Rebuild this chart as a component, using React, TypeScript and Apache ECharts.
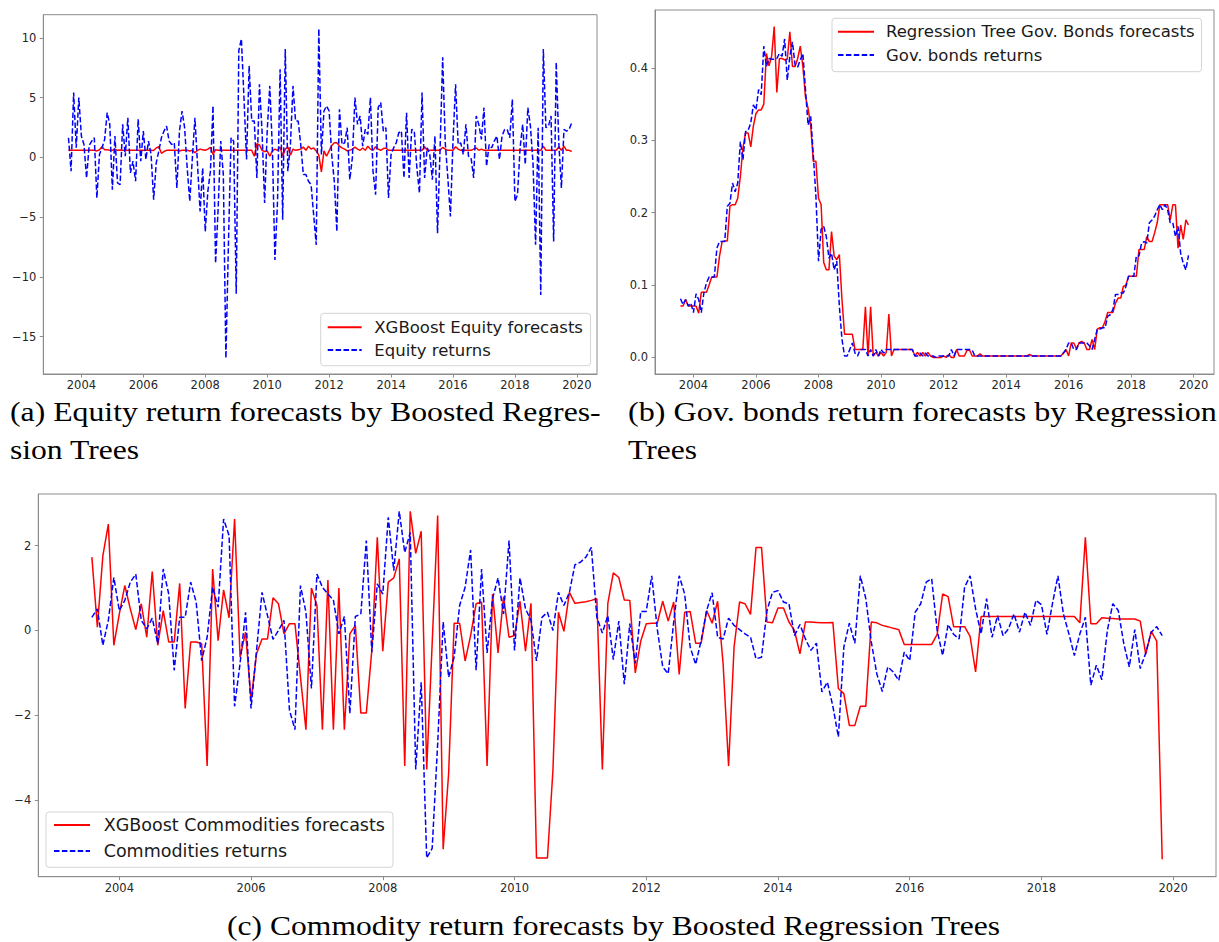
import React, { useEffect, useRef } from "react";
import * as echarts from "echarts";

// ---------- data ----------
const monthCount = 196;
const firstYear = 2003;
const firstMonth = 8; // Aug 2003
const yearTicks = [2004, 2006, 2008, 2010, 2012, 2014, 2016, 2018, 2020];

const equityForecast = [
  0.6, 0.6, 0.6, 0.6, 0.6, 0.6, 0.6, 0.6, 0.6, 0.6,
  0.6, 0.55, 0.65, 0.9, 0.65, 0.65, 0.6, 0.6, 0.7, 0.6,
  0.62, 0.6, 0.58, 0.6, 0.6, 0.6, 0.6, 0.6, 0.6, 0.6,
  0.6, 0.6, 0.6, 0.58, 0.8, 0.9, 0.35, 0.5, 0.6, 0.6,
  0.6, 0.6, 0.6, 0.55, 0.6, 0.6, 0.6, 0.55, 0.6, 0.4,
  0.6, 0.7, 0.65, 0.6, 0.7, 0.85, 0.25, 0.65, 0.6, 0.6,
  0.6, 0.6, 0.6, 0.6, 0.6, 0.6, 0.6, 0.6, 0.6, 0.6,
  0.6, 0.6, 0.1, 1.15, 1.05, 0.6, 0.5, 0.55, 0.1, 0.55,
  0.7, 0.6, 0.87, 0.1, 0.7, 0.87, 0.2, 0.7, 0.6, 0.65,
  0.7, 0.87, 0.6, 0.95, 0.7, 0.8, 0.55, 0.2, -1.2, 0.55,
  0.1, 0.55, 1.0, 1.23, 1.23, 0.95, 0.8, 0.7, 0.55, 0.6,
  0.7, 0.87, 0.7, 0.6, 0.8, 0.6, 0.95, 0.7, 0.6, 0.9,
  0.7, 0.6, 0.75, 0.8, 0.6, 0.6, 0.6, 0.6, 0.6, 0.6,
  0.6, 0.6, 0.6, 0.6, 0.6, 0.6, 0.6, 0.6, 0.9, 0.6,
  0.6, 0.6, 0.6, 0.6, 0.6, 0.85, 0.7, 0.6, 0.6, 0.6,
  0.9, 0.7, 0.6, 0.6, 0.6, 0.6, 0.6, 0.7, 0.8, 0.6,
  0.7, 0.6, 0.6, 0.6, 0.6, 0.6, 0.6, 0.6, 0.6, 0.6,
  0.6, 0.6, 0.6, 0.6, 0.6, 0.6, 0.6, 0.6, 0.6, 0.6,
  0.6, 0.6, 0.6, 0.6, 0.95, 0.6, 0.6, 0.6, 0.6, 0.6,
  0.87, 0.6, 0.95, 0.6, 0.6, 0.5,
];

const equityReturns = [
  1.65, -1.15, 5.43, 0.81, 5.01, 1.79, 1.09, -1.71, 1.0, 1.37,
  1.65, -3.39, 0.25, 0.81, 1.5, 3.75, 2.77, -2.69, 1.79, -2.13,
  -2.27, 2.77, 0.11, 3.33, -1.29, -0.31, -1.99, 3.19, -0.31, 2.21,
  -0.17, 1.37, 0.25, -3.53, -0.45, 0.53, 1.65, 2.21, 2.63, 1.37,
  1.09, 1.23, -2.55, 2.21, 3.89, 2.49, -0.87, -3.67, -0.03, 3.33,
  -0.59, -4.51, -0.87, -6.19, -2.83, -1.15, 4.31, -8.85, -4.23, 1.37,
  -1.43, -16.8, -7.03, 1.65, 1.37, -11.4, 8.94, 9.92, 5.01, -0.17,
  7.68, 3.05, 3.05, -1.71, 6.13, 2.21, -3.81, 2.21, 5.99, 0.81,
  -8.57, -3.67, 7.39, -5.21, 9.08, -1.15, 1.09, 5.99, 3.05, 3.05,
  1.09, -1.43, -1.43, -1.99, -2.27, -4.79, -7.31, 10.76, 0.25, 3.89,
  4.31, 3.89, 0.25, -1.99, -6.19, 4.03, 1.09, 1.23, 2.49, -1.85,
  -0.03, 5.01, 2.77, 3.47, 0.95, 2.35, 1.93, 5.01, -1.15, -3.11,
  4.17, 4.59, 2.21, 2.49, -3.39, 0.25, 0.81, 1.23, 2.07, 2.21,
  -1.71, 3.75, -1.71, 2.35, 2.21, -0.87, -2.97, 5.43, -1.71, 0.81,
  0.25, -1.85, 1.79, -6.33, 0.81, 8.38, 1.23, -1.71, -4.93, 1.37,
  6.13, 1.09, 1.23, 0.25, 2.77, 0.11, -0.03, -1.71, 3.47, 2.77,
  1.51, 4.17, -0.73, 1.09, 0.81, 1.37, 1.79, -0.17, 1.79, 2.35,
  2.35, 1.65, 4.87, -3.67, -3.11, 0.81, 2.77, -0.59, 4.17, 2.63,
  -0.45, -7.31, 2.49, -11.5, 9.08, 2.49, 2.63, 3.47, -7.03, 7.96,
  1.23, -2.55, 2.35, 2.21, 2.35, 2.91,
];

const govForecast = [
  0.071, 0.071, 0.08, 0.071, 0.071, 0.071, 0.071, 0.061, 0.09, 0.09,
  0.09, 0.1, 0.111, 0.111, 0.111, 0.14, 0.16, 0.161, 0.161, 0.209,
  0.211, 0.211, 0.22, 0.25, 0.29, 0.31, 0.31, 0.291, 0.32, 0.337,
  0.342, 0.342, 0.35, 0.42, 0.403, 0.416, 0.457, 0.366, 0.413, 0.413,
  0.411, 0.412, 0.45, 0.402, 0.402, 0.413, 0.43, 0.402, 0.36, 0.344,
  0.32, 0.271, 0.271, 0.22, 0.211, 0.131, 0.121, 0.121, 0.174, 0.14,
  0.135, 0.142, 0.08, 0.032, 0.032, 0.032, 0.032, 0.011, 0.011, 0.011,
  0.011, 0.07, 0.002, 0.07, 0.002, 0.007, 0.002, 0.007, 0.002, 0.007,
  0.06, 0.002, 0.011, 0.011, 0.011, 0.011, 0.011, 0.011, 0.011, 0.011,
  0.002, 0.007, 0.002, 0.007, 0.002, 0.007, 0.002, 0.0, 0.0, 0.0,
  0.0, 0.002, 0.0, 0.004, 0.0, 0.0, 0.011, 0.002, 0.002, 0.002,
  0.01, 0.01, 0.002, 0.002, 0.002, 0.005, 0.002, 0.002, 0.002, 0.002,
  0.002, 0.002, 0.002, 0.002, 0.002, 0.002, 0.002, 0.002, 0.002, 0.002,
  0.002, 0.002, 0.002, 0.002, 0.004, 0.002, 0.002, 0.002, 0.002, 0.002,
  0.002, 0.002, 0.002, 0.002, 0.002, 0.002, 0.002, 0.006, 0.011, 0.002,
  0.02, 0.02, 0.012, 0.02, 0.022, 0.02, 0.011, 0.011, 0.025, 0.011,
  0.039, 0.041, 0.041, 0.05, 0.062, 0.062, 0.062, 0.075, 0.082, 0.082,
  0.098, 0.1, 0.112, 0.112, 0.112, 0.112, 0.149, 0.149, 0.149, 0.167,
  0.16, 0.16, 0.172, 0.186, 0.211, 0.211, 0.211, 0.211, 0.19, 0.211,
  0.211, 0.151, 0.183, 0.163, 0.19, 0.183,
];

const govReturns = [
  0.081, 0.073, 0.08, 0.071, 0.075, 0.062, 0.088, 0.08, 0.062, 0.089,
  0.103, 0.111, 0.111, 0.111, 0.151, 0.16, 0.16, 0.16, 0.209, 0.213,
  0.241, 0.229, 0.241, 0.298, 0.273, 0.312, 0.314, 0.324, 0.349, 0.342,
  0.37, 0.363, 0.43, 0.402, 0.413, 0.412, 0.412, 0.413, 0.42, 0.416,
  0.44, 0.383, 0.416, 0.436, 0.404, 0.401, 0.411, 0.42, 0.37, 0.321,
  0.333, 0.28, 0.223, 0.133, 0.177, 0.181, 0.167, 0.137, 0.144, 0.121,
  0.133, 0.071, 0.025, 0.002, 0.002, 0.011, 0.02, 0.006, 0.002, 0.011,
  0.011, 0.011, 0.002, 0.011, 0.002, 0.011, 0.002, 0.011, 0.006, 0.011,
  0.011, 0.011, 0.011, 0.011, 0.011, 0.011, 0.011, 0.011, 0.011, 0.011,
  0.002, 0.002, 0.006, 0.002, 0.006, 0.002, 0.002, 0.002, 0.0, 0.002,
  0.002, 0.002, 0.002, 0.002, 0.011, 0.002, 0.011, 0.011, 0.011, 0.011,
  0.011, 0.011, 0.01, 0.002, 0.002, 0.002, 0.002, 0.002, 0.002, 0.002,
  0.002, 0.002, 0.002, 0.002, 0.002, 0.002, 0.002, 0.002, 0.002, 0.002,
  0.002, 0.002, 0.002, 0.002, 0.002, 0.002, 0.002, 0.002, 0.002, 0.002,
  0.002, 0.002, 0.002, 0.002, 0.002, 0.002, 0.002, 0.006, 0.011, 0.02,
  0.02, 0.011, 0.011, 0.02, 0.02, 0.02, 0.02, 0.016, 0.011, 0.025,
  0.039, 0.039, 0.041, 0.041, 0.057, 0.059, 0.066, 0.087, 0.087, 0.089,
  0.089, 0.098, 0.112, 0.112, 0.112, 0.14, 0.14, 0.158, 0.16, 0.158,
  0.186, 0.19, 0.195, 0.204, 0.211, 0.204, 0.211, 0.204, 0.186, 0.186,
  0.167, 0.181, 0.144, 0.13, 0.121, 0.141,
];

const commodityForecast = [
  1.73, 0.08, 1.76, 2.51, -0.35, 0.39, 1.06, 0.51, 0.02, 0.63,
  -0.16, 1.39, -0.35, 0.47, -0.27, -0.27, 1.11, -1.84, -0.27, -0.27,
  -0.31, -3.2, 1.45, -0.24, 0.96, 0.3, 2.63, -0.63, -0.04, -1.65,
  -0.55, -0.2, -0.2, 0.77, 0.63, -0.08, 0.16, 0.16, -1.1, -2.34,
  1.0, 0.59, -2.34, 1.19, -2.34, 1.0, -2.34, -0.08, 0.12, -1.95,
  -1.95, -0.47, 2.2, -0.49, 1.14, 1.24, 1.69, -3.2, 2.81, 1.82,
  2.34, -3.28, -0.3, 2.71, -5.16, -3.37, 0.17, 0.17, -0.72, -0.12,
  0.63, 0.67, -3.2, 0.86, -0.53, 0.8, -0.16, -0.12, 0.69, -0.49,
  0.64, -5.37, -5.37, -5.37, -3.3, 0.43, -0.02, 0.9, 0.64, 0.66,
  0.68, 0.71, 0.75, -3.28, 0.64, 1.36, 1.25, 0.72, 0.71, -1.0,
  -0.25, 0.16, 0.17, 0.17, 0.69, 0.22, 0.67, -1.04, 0.43, 0.45,
  -0.3, -0.3, 0.47, 0.17, 0.69, -0.78, -3.2, -0.39, 0.67, 0.63,
  0.38, 1.96, 1.96, 0.2, 0.18, 0.53, 0.53, 0.2, 0.0, -0.55,
  0.2, 0.2, 0.19, 0.18, 0.18, 0.19, -1.37, -1.49, -2.24, -2.24,
  -1.79, -1.79, 0.2, 0.18, 0.12, 0.09, 0.05, 0.02, -0.33, -0.33,
  -0.33, -0.33, -0.33, -0.33, -0.09, 0.86, 0.8, 0.09, 0.09, 0.09,
  -0.14, -0.98, 0.33, 0.33, 0.33, 0.33, 0.33, 0.33, 0.33, 0.33,
  0.33, 0.33, 0.33, 0.33, 0.33, 0.33, 0.33, 0.33, 0.33, 0.33,
  0.18, 2.2, 0.16, 0.16, 0.3, 0.29, 0.28, 0.27, 0.27, 0.27,
  0.27, 0.22, -0.56, -0.02, -0.25, -5.4,
];

const commodityReturns = [
  0.31, 0.51, -0.35, 0.24, 1.25, 0.47, 0.71, 1.14, 1.33, 0.24,
  0.04, 0.29, -0.31, 1.45, 0.86, -0.94, 0.31, 0.31, 1.14, 0.67,
  -0.71, -0.16, 1.02, 0.55, 2.63, 2.24, -1.79, -0.78, 0.43, -1.84,
  -0.47, 0.9, 0.35, -0.21, 0.0, 0.24, -1.88, -2.34, 1.06, 0.43,
  -1.37, 1.33, 1.02, 0.86, 0.72, -0.08, 0.33, -1.96, 0.33, 0.39,
  2.12, -0.51, 1.1, 0.86, 2.67, 1.41, 2.81, 1.84, 2.31, -3.28,
  -1.22, -5.37, -5.14, -2.67, 0.2, -1.1, -0.63, 0.59, 1.02, 1.9,
  -0.94, 1.45, -0.53, 0.75, 1.24, 0.39, 2.12, -0.47, 1.24, 0.51,
  0.24, -0.72, 0.31, 0.43, 0.0, 0.9, 0.59, 0.9, 1.55, 1.61,
  1.73, 1.96, 0.31, -0.06, 0.35, -0.69, 0.22, -1.27, 0.16, -0.78,
  0.45, 0.45, 1.29, 0.04, -0.86, -1.02, 0.2, 1.29, 0.86, -0.39,
  -0.8, -0.24, 0.47, 0.89, -0.16, -0.2, 0.29, 0.12, 0.02, -0.08,
  -0.16, -0.67, -0.63, 0.47, 0.9, 0.94, 0.67, 0.63, -0.12, 0.14,
  -0.2, -0.47, -0.3, -1.45, -1.22, -1.79, -2.51, -0.39, 0.17, -0.3,
  1.29, 0.75, -0.27, -1.02, -1.44, -0.86, -0.98, -1.18, -0.51, -0.71,
  0.43, 0.63, 1.14, 1.22, 0.0, -0.59, 0.14, -0.09, -0.2, 1.02,
  1.29, 0.51, -0.08, 0.75, -0.16, 0.35, -0.12, 0.04, 0.39, -0.04,
  0.43, 0.12, 0.71, 0.61, -0.09, 0.63, 1.29, 0.39, -0.08, -0.59,
  -0.08, 0.31, -1.29, -0.82, -1.16, 0.0, 0.63, 0.47, -0.31, -0.86,
  0.02, -0.9, -0.53, -0.04, 0.09, -0.12,
];

const equityTicks = [-15, -10, -5, 0, 5, 10];
const govTicks = [0, 0.1, 0.2, 0.3, 0.4];
const commodityTicks = [-4, -2, 0, 2];

const names = {
  eqF: "XGBoost Equity forecasts",
  eqR: "Equity returns",
  gvF: "Regression Tree Gov. Bonds forecasts",
  gvR: "Gov. bonds returns",
  cmF: "XGBoost Commodities forecasts",
  cmR: "Commodities returns",
};

const captionLines = [
  "(a) Equity return forecasts by Boosted Regres-",
  "sion Trees",
  "(b) Gov. bonds return forecasts by Regression",
  "Trees",
  "(c) Commodity return forecasts by Boosted Regression Trees",
];

// ---------- styling ----------
const axisColor = "#8c8c8c";
const labelColor = "#262626";
const tickFont = "DejaVu Sans";
const RED = "#ff0000";
const BLUE = "#0000ff";
const DASH = [5.5, 2.4];
const X_MIN = 2002.77;
const X_MAX = 2020.65;
const captionFont = '27px "Liberation Serif"';

const minusFmt = (v: number) => (v < 0 ? "\u2212" + Math.abs(v) : String(v));

function makeX(gridIndex: number) {
  return {
    type: "value",
    gridIndex,
    min: X_MIN,
    max: X_MAX,
    axisLine: { show: true, onZero: false, lineStyle: { color: axisColor, width: 1 } },
    axisTick: { show: true, customValues: yearTicks, length: 3.5, lineStyle: { color: axisColor, width: 1 } },
    axisLabel: {
      show: true,
      customValues: yearTicks,
      margin: 5,
      fontFamily: tickFont,
      fontSize: 11.5,
      color: labelColor,
      formatter: (v: number) => String(Math.round(v)),
    },
    splitLine: { show: false },
  };
}

function makeY(gridIndex: number, min: number, max: number, ticks: number[], fmt: (v: number) => string) {
  return {
    type: "value",
    gridIndex,
    min,
    max,
    axisLine: { show: true, onZero: false, lineStyle: { color: axisColor, width: 1 } },
    axisTick: { show: true, customValues: ticks, length: 3.5, lineStyle: { color: axisColor, width: 1 } },
    axisLabel: {
      show: true,
      customValues: ticks,
      margin: 7,
      fontFamily: tickFont,
      fontSize: 11.5,
      color: labelColor,
      formatter: fmt,
    },
    splitLine: { show: false },
  };
}

function legendBox(names2: string[], left: number, top: number, fontSize: number, lineH: number, gap: number, padding: number[], textPadLeft: number, itemWidth: number) {
  return {
    show: true,
    orient: "vertical",
    left,
    top,
    data: names2,
    itemWidth,
    itemHeight: 10,
    itemGap: gap,
    padding,
    backgroundColor: "rgba(255,255,255,0.8)",
    borderColor: "#d4d4d4",
    borderWidth: 1,
    borderRadius: 3,
    selectedMode: false,
    itemStyle: { opacity: 0 },
    textStyle: {
      fontFamily: tickFont,
      fontSize,
      lineHeight: lineH,
      color: "#1a1a1a",
      padding: [0, 0, 0, textPadLeft],
    },
  };
}

function lineSeries(name: string, xi: number, vals: number[], color: string, dashed: boolean) {
  const dates = Array.from({ length: monthCount }, (_, i) => firstYear + (firstMonth - 1 + i) / 12);
  return {
    name,
    type: "line",
    xAxisIndex: xi,
    yAxisIndex: xi,
    data: vals.map((v, i) => [dates[i], v]),
    symbol: "none",
    showSymbol: false,
    lineStyle: { color, width: 1.5, type: dashed ? DASH : "solid" },
    itemStyle: { color },
    emphasis: { disabled: true },
  };
}

function measure(text: string, font: string) {
  const ctx = document.createElement("canvas").getContext("2d");
  if (!ctx) return text.length * 12;
  ctx.font = font;
  return ctx.measureText(text).width;
}

function captionText(text: string, x: number, y: number, targetWidth: number | null, scaleDefault: number) {
  const w = measure(text, captionFont);
  const s = targetWidth ? targetWidth / w : scaleDefault;
  return {
    type: "text",
    x,
    y,
    scaleX: s,
    silent: true,
    style: {
      text,
      font: captionFont,
      fill: "#000",
      verticalAlign: "middle",
      align: "left",
    },
  };
}

export default function App() {
  const ref = useRef<HTMLDivElement>(null);
  useEffect(() => {
    if (!ref.current) return;
    const chart = echarts.init(ref.current, undefined, { renderer: "svg" });
    const baseScale = 774 / measure(captionLines[4], captionFont);
    const option: any = {
      animation: false,
      backgroundColor: "#ffffff",
      grid: [
        { left: 43.3, top: 14.7, width: 553.7, height: 359.3, show: true, borderColor: axisColor, borderWidth: 1, containLabel: false },
        { left: 655, top: 10, width: 559, height: 364, show: true, borderColor: axisColor, borderWidth: 1, containLabel: false },
        { left: 38.3, top: 494, width: 1177.7, height: 382.7, show: true, borderColor: axisColor, borderWidth: 1, containLabel: false },
      ],
      xAxis: [makeX(0), makeX(1), makeX(2)],
      yAxis: [
        makeY(0, -18.12, 11.95, equityTicks, minusFmt),
        makeY(1, -0.0229, 0.48, govTicks, (v: number) => v.toFixed(1)),
        makeY(2, -5.81, 3.22, commodityTicks, minusFmt),
      ],
      legend: [
        legendBox([names.eqF, names.eqR], 320.7, 313.3, 16.5, 18, 4.7, [5, 7.6, 6.7, 6], 7.6, 34),
        legendBox([names.gvF, names.gvR], 832, 18.3, 16.5, 18, 5.3, [4.4, 7, 7.7, 5], 7, 36),
        legendBox([names.cmF, names.cmR], 46, 812, 17.5, 19, 7, [3.5, 8, 6.8, 7], 8.7, 36),
      ],
      series: [
        lineSeries(names.eqF, 0, equityForecast, RED, false),
        lineSeries(names.eqR, 0, equityReturns, BLUE, true),
        lineSeries(names.gvF, 1, govForecast, RED, false),
        lineSeries(names.gvR, 1, govReturns, BLUE, true),
        lineSeries(names.cmF, 2, commodityForecast, RED, false),
        lineSeries(names.cmR, 2, commodityReturns, BLUE, true),
      ],
      graphic: [
        captionText(captionLines[0], 10, 411.5, 591, baseScale),
        captionText(captionLines[1], 10, 450.3, null, baseScale),
        captionText(captionLines[2], 628, 411.5, 589, baseScale),
        captionText(captionLines[3], 628, 450.3, null, baseScale),
        captionText(captionLines[4], 227, 926.3, 774, baseScale),
      ],
    };
    chart.setOption(option);
    return () => chart.dispose();
  }, []);
  return (
    <div
      ref={ref}
      style={{ position: "absolute", left: 0, top: 0, width: 1219, height: 942, background: "#fff" }}
    />
  );
}
